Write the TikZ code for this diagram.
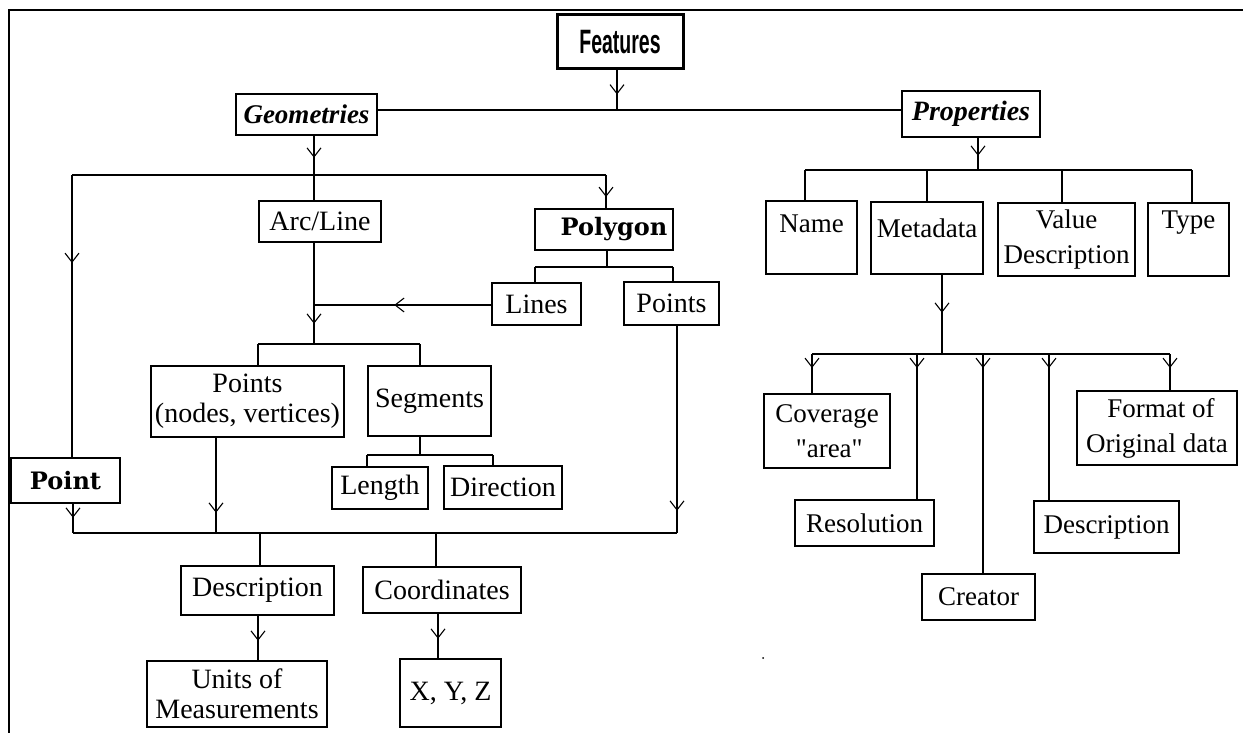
\documentclass[tikz,border=0pt]{standalone}
\usepackage{fontspec}
\setmainfont{Liberation Serif}
\newfontfamily\featfont{Liberation Sans}
\newfontfamily\decofont{DejaVu Serif}
\newfontfamily\rawserif{Liberation Serif}[Ligatures=TeXOff]
\usetikzlibrary{arrows.meta,decorations.markings}
\tikzset{
  box/.style={draw, line width=1.5pt, inner sep=0pt, align=center,
    font=\fontsize{28}{30}\selectfont},
  rbox/.style={box, font=\fontsize{27}{35}\selectfont},
  conn/.style={line width=1.5pt},
  marr/.style={postaction={decorate}, decoration={markings,
    mark=at position #1 with {\arrow[line width=1.1pt]{Straight Barb[length=9pt,width=14pt]}}}},
}
\begin{document}
\begin{tikzpicture}[x=1pt,y=-1pt]
\useasboundingbox (0,0) rectangle (1243,733);
% frame
\coordinate (fa) at (9,733);
\coordinate (fb) at (9,10);
\coordinate (fc) at (1243,10);
\draw[line width=2pt] (fa) -- (fb) -- (fc);

% ---------- nodes ----------
\node[box, line width=3pt, minimum width=126pt, minimum height=54pt] (feat) at (620,42)
  {\featfont\bfseries\fontsize{26}{28}\selectfont\scalebox{0.75}[1.3]{Features}};
\node[box, minimum width=141pt, minimum height=41pt] (geom) at (306.5,114.5)
  {\bfseries\itshape\fontsize{27}{29}\selectfont Geometries};
\node[box, minimum width=138pt, minimum height=46pt] (prop) at (971,114)
  {\bfseries\itshape\fontsize{28}{30}\selectfont Properties};

\node[box, minimum width=122pt, minimum height=41pt] (arc) at (320,221.5) {Arc/Line};
\node[box, minimum width=138pt, minimum height=41pt] (poly) at (604,229.5)
  {\decofont\bfseries\fontsize{24}{26}\selectfont\hspace*{20pt}Polygon};
\node[box, minimum width=89pt, minimum height=42pt] (lines) at (536.5,304) {Lines};
\node[box, minimum width=95pt, minimum height=43pt] (ppts) at (671.5,303.5) {Points};
\node[box, minimum width=193pt, minimum height=71pt] (pnv) at (247.5,401.5) {Points\\(nodes, vertices)};
\node[box, minimum width=123pt, minimum height=70pt] (seg) at (429.5,401) {Segments};
\node[box, minimum width=96pt, minimum height=42pt] (len) at (380,488) {Length};
\node[box, minimum width=118pt, minimum height=43pt] (dir) at (503,487.5) {Direction};
\node[box, minimum width=109pt, minimum height=45pt] (point) at (65.5,480.5)
  {\decofont\bfseries\fontsize{24}{26}\selectfont Point};
\node[box, minimum width=153pt, minimum height=49pt] (desc) at (257.5,590.5) {Description};
\node[box, minimum width=158pt, minimum height=46pt] (coord) at (442,590) {Coordinates};
\node[box, minimum width=180pt, minimum height=66pt] (units) at (237,694) {Units of\\Measurements};
\node[box, minimum width=101pt, minimum height=68pt] (xyz) at (450.5,693) {X, Y, Z};

\node[rbox, minimum width=91pt, minimum height=73pt, text height=20pt, text depth=29pt] (name) at (811.5,237.5) {Name};
\node[rbox, minimum width=112pt, minimum height=72pt, text height=20pt, text depth=22pt] (meta) at (927,238) {Metadata};
\node[rbox, minimum width=137pt, minimum height=73pt] (vdesc) at (1066.5,239.5) {Value\\Description};
\node[rbox, minimum width=81pt, minimum height=73pt, text height=20pt, text depth=43pt] (type) at (1188.5,239.5) {Type};
\node[rbox, minimum width=126pt, minimum height=74pt] (cov) at (827,431) {Coverage\\\,{\rawserif"area"}};
\node[rbox, minimum width=139pt, minimum height=46pt] (res) at (864.5,523) {Resolution};
\node[rbox, minimum width=113pt, minimum height=46pt] (creator) at (978.5,597) {Creator};
\node[rbox, minimum width=145pt, minimum height=52pt] (rdesc) at (1106.5,527) {Description};
\node[rbox, minimum width=160pt, minimum height=74pt] (fmt) at (1157,428) {\hspace*{8pt}Format of\\Original data};

% ---------- junction coordinates ----------
\coordinate (jf) at (617,110);
\coordinate (jg) at (314,175);
\coordinate (jgl) at (72,175);
\coordinate (jgr) at (606,175);
\coordinate (ja) at (314,305);
\coordinate (jb) at (314,344);
\coordinate (jbl) at (258,344);
\coordinate (jbr) at (420,344);
\coordinate (jp) at (607,267);
\coordinate (jpl) at (535,267);
\coordinate (jpr) at (673,267);
\coordinate (js) at (420,455);
\coordinate (jsl) at (367,455);
\coordinate (jsr) at (493,455);
\coordinate (jl) at (73,533);
\coordinate (jn) at (216,533);
\coordinate (jr) at (677,533);
\coordinate (jd) at (260,533);
\coordinate (jc) at (436,533);
\coordinate (xd) at (258,640);
\coordinate (xc) at (438,640);
\coordinate (jq) at (978,170);
\coordinate (jql) at (805,170);
\coordinate (jqm) at (927,170);
\coordinate (jqv) at (1062,170);
\coordinate (jqr) at (1192,170);
\coordinate (jm) at (942,354);
\coordinate (jml) at (812,354);
\coordinate (jmres) at (917,354);
\coordinate (jmcre) at (983,354);
\coordinate (jmdes) at (1049,354);
\coordinate (jmr) at (1170,354);

% ---------- connectors ----------
\draw[conn, marr=24pt] (feat.south -| jf) -- (jf);
\draw[conn] (geom.east |- jf) -- (prop.west |- jf);

\draw[conn, marr=22pt] (geom.south -| jg) -- (jg);
\draw[conn] (jgl) -- (jgr);
\draw[conn] (jg) -- (arc.north -| jg);
\draw[conn, marr=88pt] (jgl) -- (point.north -| jgl);
\draw[conn, marr=22pt] (jgr) -- (poly.north -| jgr);

\draw[conn, marr=81pt] (arc.south -| ja) -- (jb);
\draw[conn, marr=97pt] (lines.west |- ja) -- (ja);
\draw[conn] (jbl) -- (jbr);
\draw[conn] (jbl) -- (pnv.north -| jbl);
\draw[conn] (jbr) -- (seg.north -| jbr);

\draw[conn] (poly.south -| jp) -- (jp);
\draw[conn] (jpl) -- (jpr);
\draw[conn] (jpl) -- (lines.north -| jpl);
\draw[conn] (jpr) -- (ppts.north -| jpr);

\draw[conn] (seg.south -| js) -- (js);
\draw[conn] (jsl) -- (jsr);
\draw[conn] (jsl) -- (len.north -| jsl);
\draw[conn] (jsr) -- (dir.north -| jsr);

\draw[conn, marr=14pt] (point.south -| jl) -- (jl);
\draw[conn, marr=75pt] (pnv.south -| jn) -- (jn);
\draw[conn, marr=185pt] (ppts.south -| jr) -- (jr);
\draw[conn] (jl) -- (jr);
\draw[conn] (jd) -- (desc.north -| jd);
\draw[conn] (jc) -- (coord.north -| jc);
\draw[conn, marr=25pt] (desc.south -| xd) -- (units.north -| xd);
\draw[conn, marr=25pt] (coord.south -| xc) -- (xyz.north -| xc);

\draw[conn, marr=18pt] (prop.south -| jq) -- (jq);
\draw[conn] (jql) -- (jqr);
\draw[conn] (jql) -- (name.north -| jql);
\draw[conn] (jqm) -- (meta.north -| jqm);
\draw[conn] (jqv) -- (vdesc.north -| jqv);
\draw[conn] (jqr) -- (type.north -| jqr);

\draw[conn, marr=38pt] (meta.south -| jm) -- (jm);
\draw[conn] (jml) -- (jmr);
\draw[conn, marr=14pt] (jml) -- (cov.north -| jml);
\draw[conn, marr=14pt] (jmres) -- (res.north -| jmres);
\draw[conn, marr=14pt] (jmcre) -- (creator.north -| jmcre);
\draw[conn, marr=14pt] (jmdes) -- (rdesc.north -| jmdes);
\draw[conn, marr=14pt] (jmr) -- (fmt.north -| jmr);

% stray dot
\fill (763,658) circle (1pt);
\end{tikzpicture}
\end{document}
